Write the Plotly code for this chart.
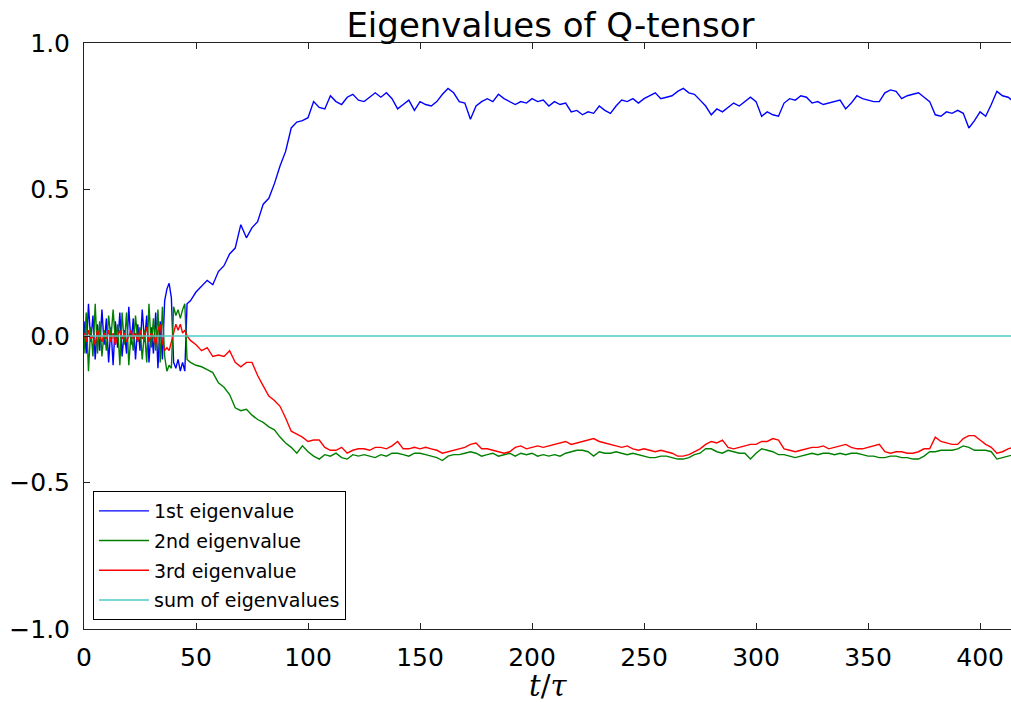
import plotly.graph_objects as go

# ---------------- data ----------------
# early, strongly fluctuating phase: t = 0 .. 46, step 1
t_early = list(range(0, 47))
blue_early = [0.05, -0.06, 0.11, -0.02, 0.07, -0.08, 0.04, -0.05, 0.09, -0.03,
              0.06, -0.09, 0.03, -0.10, 0.05, -0.04, 0.08, -0.07, 0.02, -0.06,
              0.10, -0.03, 0.06, -0.08, 0.04, -0.05, 0.09, -0.02, 0.07, -0.09,
              0.03, -0.06, 0.08, -0.11, 0.05, -0.08, 0.12, 0.16, 0.18, 0.13,
              -0.09, -0.11, -0.08, -0.12, -0.09, -0.12, 0.11]
green_early = [-0.06, 0.08, -0.12, 0.03, -0.07, 0.11, -0.06, 0.05, -0.07, 0.02,
               -0.05, 0.07, -0.01, 0.09, -0.02, 0.04, -0.10, 0.08, -0.03, 0.08,
               -0.10, 0.01, -0.05, 0.07, -0.02, 0.03, -0.08, 0.02, -0.09, 0.11,
               -0.04, 0.06, -0.05, 0.09, -0.09, 0.10, -0.07, -0.12, -0.10, -0.11,
               0.10, 0.07, 0.09, 0.06, 0.09, 0.11, -0.08]
red_early = [0.01, -0.02, 0.02, -0.01, 0.00, -0.03, 0.02, 0.00, -0.02, 0.01,
             -0.01, 0.02, -0.02, 0.01, -0.03, 0.00, 0.02, -0.01, 0.01, -0.02,
             0.00, 0.02, -0.01, 0.01, -0.02, 0.02, -0.01, 0.00, 0.03, -0.02,
             0.01, 0.00, -0.03, 0.02, 0.04, -0.02, -0.05, -0.04, -0.05, -0.02,
             0.02, 0.04, 0.02, 0.04, 0.01, 0.02, 0.00]

# later phase: t = 47.5 .. 415, step 2.5 (8 samples per row = 20 time units)
t_late = [47.5 + 2.5 * i for i in range(148)]
blue_late = [
    0.12, 0.15, 0.17, 0.19, 0.175, 0.22, 0.24, 0.28,
    0.30, 0.38, 0.335, 0.37, 0.39, 0.45, 0.47, 0.52,
    0.58, 0.63, 0.71, 0.73, 0.735, 0.745, 0.80, 0.78,
    0.775, 0.82, 0.80, 0.79, 0.815, 0.825, 0.805, 0.80,
    0.815, 0.83, 0.815, 0.83, 0.81, 0.775, 0.79, 0.805,
    0.77, 0.80, 0.79, 0.785, 0.80, 0.825, 0.845, 0.83,
    0.80, 0.795, 0.74, 0.785, 0.80, 0.81, 0.80, 0.825,
    0.81, 0.80, 0.79, 0.80, 0.795, 0.81, 0.80, 0.805,
    0.785, 0.80, 0.79, 0.795, 0.765, 0.77, 0.755, 0.765,
    0.76, 0.785, 0.77, 0.76, 0.785, 0.805, 0.80, 0.81,
    0.795, 0.81, 0.82, 0.83, 0.81, 0.815, 0.82, 0.835,
    0.845, 0.83, 0.825, 0.805, 0.785, 0.755, 0.775, 0.765,
    0.78, 0.795, 0.785, 0.80, 0.815, 0.80, 0.75, 0.765,
    0.755, 0.75, 0.795, 0.81, 0.805, 0.82, 0.815, 0.795,
    0.80, 0.79, 0.795, 0.80, 0.805, 0.775, 0.795, 0.82,
    0.81, 0.805, 0.80, 0.80, 0.83, 0.84, 0.835, 0.81,
    0.82, 0.825, 0.83, 0.815, 0.80, 0.755, 0.75, 0.765,
    0.76, 0.77, 0.76, 0.71, 0.735, 0.765, 0.75, 0.79,
    0.835, 0.82, 0.815, 0.80]
green_late = [
    -0.09, -0.10, -0.105, -0.115, -0.125, -0.16, -0.175, -0.20,
    -0.245, -0.255, -0.25, -0.27, -0.285, -0.295, -0.31, -0.32,
    -0.345, -0.365, -0.38, -0.40, -0.375, -0.395, -0.41, -0.42,
    -0.405, -0.41, -0.40, -0.415, -0.42, -0.405, -0.41, -0.405,
    -0.41, -0.415, -0.405, -0.41, -0.40, -0.40, -0.405, -0.41,
    -0.40, -0.40, -0.405, -0.41, -0.415, -0.425, -0.41, -0.405,
    -0.405, -0.40, -0.395, -0.40, -0.41, -0.405, -0.40, -0.41,
    -0.405, -0.40, -0.41, -0.40, -0.405, -0.40, -0.41, -0.405,
    -0.41, -0.405, -0.41, -0.40, -0.395, -0.39, -0.39, -0.395,
    -0.41, -0.395, -0.40, -0.40, -0.395, -0.40, -0.405, -0.40,
    -0.405, -0.41, -0.415, -0.415, -0.41, -0.41, -0.415, -0.42,
    -0.42, -0.415, -0.405, -0.40, -0.385, -0.385, -0.395, -0.40,
    -0.39, -0.395, -0.40, -0.40, -0.42, -0.40, -0.385, -0.39,
    -0.395, -0.405, -0.405, -0.41, -0.415, -0.41, -0.405, -0.40,
    -0.405, -0.40, -0.40, -0.405, -0.40, -0.405, -0.40, -0.40,
    -0.405, -0.41, -0.41, -0.415, -0.415, -0.41, -0.41, -0.415,
    -0.415, -0.42, -0.42, -0.41, -0.395, -0.395, -0.39, -0.39,
    -0.39, -0.385, -0.375, -0.38, -0.39, -0.39, -0.39, -0.395,
    -0.42, -0.415, -0.41, -0.405]
red_late = [
    -0.015, -0.03, -0.05, -0.04, -0.07, -0.065, -0.07, -0.05,
    -0.09, -0.105, -0.09, -0.09, -0.135, -0.17, -0.205, -0.22,
    -0.24, -0.28, -0.325, -0.335, -0.345, -0.36, -0.355, -0.355,
    -0.38, -0.39, -0.39, -0.38, -0.40, -0.39, -0.385, -0.385,
    -0.39, -0.38, -0.38, -0.385, -0.375, -0.36, -0.385, -0.385,
    -0.38, -0.385, -0.38, -0.385, -0.39, -0.40, -0.395, -0.39,
    -0.385, -0.38, -0.37, -0.365, -0.385, -0.385, -0.39, -0.395,
    -0.40, -0.395, -0.38, -0.375, -0.385, -0.38, -0.375, -0.38,
    -0.375, -0.37, -0.365, -0.36, -0.37, -0.365, -0.36, -0.355,
    -0.35, -0.36, -0.365, -0.37, -0.375, -0.38, -0.375, -0.385,
    -0.39, -0.385, -0.39, -0.395, -0.39, -0.395, -0.40, -0.41,
    -0.41, -0.405, -0.395, -0.385, -0.37, -0.36, -0.365, -0.355,
    -0.38, -0.385, -0.38, -0.375, -0.37, -0.37, -0.36, -0.36,
    -0.35, -0.355, -0.385, -0.39, -0.395, -0.39, -0.385, -0.38,
    -0.38, -0.375, -0.385, -0.38, -0.375, -0.37, -0.38, -0.385,
    -0.385, -0.38, -0.375, -0.37, -0.395, -0.40, -0.395, -0.395,
    -0.40, -0.40, -0.395, -0.385, -0.385, -0.345, -0.36, -0.365,
    -0.37, -0.37, -0.35, -0.34, -0.34, -0.355, -0.37, -0.38,
    -0.40, -0.395, -0.385, -0.38]

t = t_early + t_late
eig1 = blue_early + blue_late
eig2 = green_early + green_late
eig3 = red_early + red_late
eig_sum = [0.0 for _ in t]

assert len(eig1) == len(t) and len(eig2) == len(t) and len(eig3) == len(t)

series_names = ["1st eigenvalue", "2nd eigenvalue", "3rd eigenvalue", "sum of eigenvalues"]
series_colors = ["#0000ff", "#008000", "#ff0000", "#4fc9c9"]

x_ticks = [0, 50, 100, 150, 200, 250, 300, 350, 400]
y_ticks = [-1.0, -0.5, 0.0, 0.5, 1.0]

# ---------------- figure ----------------
fig = go.Figure()
for i, (vals, name, col) in enumerate(zip([eig1, eig2, eig3, eig_sum], series_names, series_colors)):
    fig.add_trace(go.Scatter(
        x=t, y=vals, mode="lines", name=name,
        line=dict(color=col, width=1.4),
        legendgroup=f"g{i}",
    ))

axis_common = dict(
    showline=True, linecolor="#222222", linewidth=1,
    ticks="inside", ticklen=6, tickcolor="#222222", tickwidth=1,
    showgrid=False, zeroline=False,
    tickfont=dict(family="DejaVu Sans", size=25, color="#000000"),
)

fig.update_xaxes(range=[0, 413.8], tickvals=x_ticks, mirror="ticks",
                 ticklabelstandoff=6, **axis_common)
fig.update_yaxes(range=[-1.0, 1.0], tickvals=y_ticks, tickformat=".1f",
                 ticklabelstandoff=8, **axis_common)

fig.update_layout(
    width=1011, height=702,
    margin=dict(l=84, r=0, t=43, b=73),
    paper_bgcolor="#ffffff", plot_bgcolor="#ffffff",
    title=dict(text="Eigenvalues of Q-tensor", x=0.5445, xanchor="center",
               y=1 - 25 / 702, yanchor="middle", yref="container",
               font=dict(family="DejaVu Sans", size=34, color="#000000")),
    legend=dict(x=0.0097, y=0.0154, xanchor="left", yanchor="bottom",
                bgcolor="#ffffff", bordercolor="#000000", borderwidth=1,
                font=dict(family="DejaVu Sans", size=19, color="#000000"),
                tracegroupgap=2, traceorder="grouped", itemwidth=50),
    showlegend=True,
    annotations=[dict(text="<i>t</i>/<i>τ</i>", xref="paper", yref="paper",
                      x=0.5, y=-0.097, xanchor="center", yanchor="middle",
                      showarrow=False,
                      font=dict(family="DejaVu Serif", size=29, color="#000000"))],
)

fig.write_html("out.html")
